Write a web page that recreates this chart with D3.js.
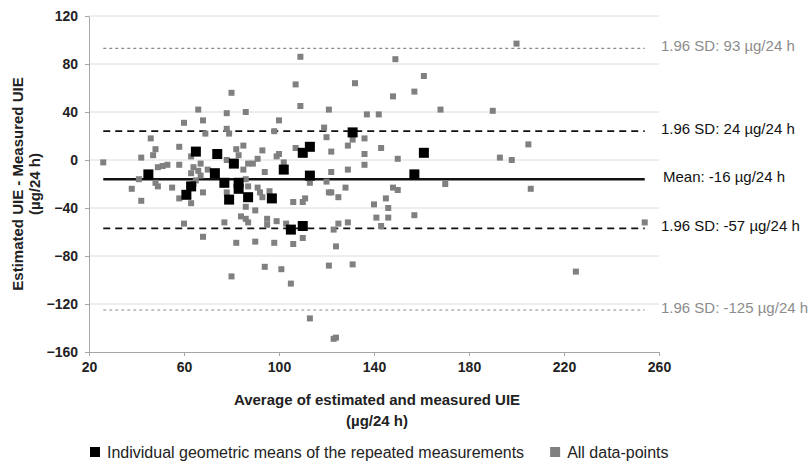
<!DOCTYPE html>
<html>
<head>
<meta charset="utf-8">
<script src="https://cdn.jsdelivr.net/npm/d3@7"></script>
<style>
  body { margin: 0; background: #fff; }
  svg { font-family: "Liberation Sans", Arial, sans-serif; }
</style>
</head>
<body>
<script>
// Bland-Altman: average (x) vs difference (y), ug/24 h
const xTicks = [20, 60, 100, 140, 180, 220, 260];
const yTicks = [-160, -120, -80, -40, 0, 40, 80, 120];

// gray: all data points [average, difference]
const allPoints = [
  [26,-2],[38,-24],[41,-16],[42,-34],[42,2],[46,18],[48,9],[47,4],[49,-6],[51,-5],
  [53,-4],[49,-22],[48,-19],[55,-23],[58,11],[58,-4],[58,-32],[60,31],[60,-53],[63,3],
  [63,-36],[66,42],[68,33],[69,22],[68,-27],[68,-64],[64,-6],[66,-9],[63,-11],[67,-13],
  [65,-17],[70,-8],[64,-20],[67,-3],[77,-52],[78,-27],[78,39],[80,56],[78,26],[79,22],
  [78,0],[80,-97],[82,9],[85,12],[83,4],[82,-69],[86,40],[86,-39],[84,-47],[86,-49],
  [87,-52],[87,-3],[85,-8],[89,-3],[86,-16],[87,-22],[90,-42],[91,-23],[92,-27],[93,-31],
  [93,8],[91,1],[94,-10],[90,-68],[94,-89],[96,-26],[95,-49],[95,-54],[98,24],[98,-69],
  [99,-51],[100,33],[100,5],[99,3],[102,-2],[101,-91],[103,-53],[105,-103],[106,-35],[106,-70],
  [107,63],[107,10],[109,86],[109,45],[110,-35],[110,-65],[111,-32],[113,-19],[113,-132],[119,27],
  [120,19],[120,-18],[121,42],[121,-27],[122,-27],[121,-88],[122,7],[122,-10],[123,-58],[123,-149],
  [124,-148],[124,-72],[125,-31],[125,-53],[128,-23],[129,12],[129,-8],[129,-52],[131,17],[131,-87],
  [132,64],[136,18],[136,5],[136,-4],[137,38],[140,-37],[141,-48],[142,38],[143,10],[143,-55],
  [145,-32],[146,-40],[146,-48],[148,53],[148,-23],[149,84],[150,1],[150,-25],[157,57],[157,-46],
  [161,70],[168,42],[170,-20],[190,41],[193,2],[198,0],[200,97],[205,13],[206,-24],[225,-93],
  [254,-52]
];

// black: individual geometric means
const geoMeans = [
  [45,-12],[61,-29],[63,-22],[65,7],[74,5],[73,-11],[77,-19],[79,-33],[81,-3],[83,-19],
  [83,-24],[87,-31],[97,-32],[102,-8],[105,-58],[110,-55],[110,6],[113,11],[113,-13],[131,23],
  [157,-12],[161,6]
];

// mean and limits of agreement
const refLines = [
  {value: 93, label: "1.96 SD: 93 µg/24 h", kind: "outer"},
  {value: 24, label: "1.96 SD: 24 µg/24 h", kind: "inner"},
  {value: -16, label: "Mean: -16 µg/24 h", kind: "mean"},
  {value: -57, label: "1.96 SD: -57 µg/24 h", kind: "inner"},
  {value: -125, label: "1.96 SD: -125 µg/24 h", kind: "outer"}
];
const lineSpan = [26, 254];

const W = 809, H = 464;
const m = {left: 89, right: 150, top: 16, bottom: 112};

const svg = d3.select("body").append("svg").attr("width", W).attr("height", H);

const x = d3.scaleLinear().domain([20, 260]).range([m.left, W - m.right]);
const y = d3.scaleLinear().domain([-160, 120]).range([H - m.bottom, m.top]);

// grid
svg.append("g").selectAll("line")
  .data(yTicks.filter(d => d > -160))
  .enter().append("line")
  .attr("x1", x(20)).attr("x2", x(260))
  .attr("y1", d => y(d)).attr("y2", d => y(d))
  .attr("stroke", "#dcdcdc").attr("stroke-width", 1);

// axes
const yAxis = svg.append("g")
  .attr("transform", `translate(${m.left},0)`)
  .call(d3.axisLeft(y).tickValues(yTicks).tickSize(4).tickSizeOuter(0).tickPadding(7));
const xAxis = svg.append("g")
  .attr("transform", `translate(0,${H - m.bottom})`)
  .call(d3.axisBottom(x).tickValues(xTicks).tickSize(4).tickSizeOuter(0).tickPadding(6));

[xAxis, yAxis].forEach(a => {
  a.select(".domain").attr("stroke", "#a6a6a6");
  a.selectAll(".tick line").attr("stroke", "#a6a6a6");
  a.selectAll(".tick text")
    .attr("fill", "#222")
    .style("font-size", "14px")
    .style("font-weight", "bold")
    .style("font-family", "'Liberation Sans', Arial, sans-serif");
});

// reference lines
const styles = {
  outer: {stroke: "#8c8c8c", width: 1.2, dash: "3,3", color: "#8c8c8c"},
  inner: {stroke: "#111", width: 1.8, dash: "7,5", color: "#111"},
  mean: {stroke: "#111", width: 2.6, dash: null, color: "#111"}
};

svg.append("g").selectAll("line")
  .data(refLines)
  .enter().append("line")
  .attr("x1", x(lineSpan[0])).attr("x2", x(lineSpan[1]))
  .attr("y1", d => y(d.value)).attr("y2", d => y(d.value))
  .attr("stroke", d => styles[d.kind].stroke)
  .attr("stroke-width", d => styles[d.kind].width)
  .attr("stroke-dasharray", d => styles[d.kind].dash);

svg.append("g").selectAll("text")
  .data(refLines)
  .enter().append("text")
  .attr("x", d => d.kind === "mean" ? 663 : 661)
  .attr("y", d => y(d.value) + 3)
  .attr("fill", d => styles[d.kind].color)
  .style("font-size", "15px")
  .text(d => d.label);

// points
svg.append("g").selectAll("rect")
  .data(allPoints)
  .enter().append("rect")
  .attr("x", d => x(d[0]) - 3).attr("y", d => y(d[1]) - 3)
  .attr("width", 6).attr("height", 6)
  .attr("fill", "#808080");

svg.append("g").selectAll("rect")
  .data(geoMeans)
  .enter().append("rect")
  .attr("x", d => x(d[0]) - 5).attr("y", d => y(d[1]) - 5)
  .attr("width", 10).attr("height", 10)
  .attr("fill", "#000");

// axis titles
const yt = svg.append("text")
  .attr("transform", `translate(23,${y(-20)}) rotate(-90)`)
  .attr("text-anchor", "middle")
  .style("font-size", "15px").style("font-weight", "bold").attr("fill", "#222");
yt.append("tspan").attr("x", 0).attr("dy", 0).text("Estimated UIE - Measured UIE");
yt.append("tspan").attr("x", 0).attr("dy", 17).text("(µg/24 h)");

const xt = svg.append("text")
  .attr("text-anchor", "middle")
  .style("font-size", "15px").style("font-weight", "bold").attr("fill", "#222");
xt.append("tspan").attr("x", 377).attr("y", 405).text("Average of estimated and measured UIE");
xt.append("tspan").attr("x", 377).attr("y", 426).text("(µg/24 h)");

// legend
const legend = [
  {label: "Individual geometric means of the repeated measurements", color: "#000"},
  {label: "All data-points", color: "#808080"}
];
const lg = svg.append("g").attr("transform", "translate(90,452)");
let lx = 0;
legend.forEach(d => {
  lg.append("rect").attr("x", lx).attr("y", -5).attr("width", 10).attr("height", 10).attr("fill", d.color);
  const t = lg.append("text").attr("x", lx + 17).attr("y", 6)
    .style("font-size", "16px").attr("fill", "#222").text(d.label);
  lx += 17 + t.node().getComputedTextLength() + 26;
});
</script>
</body>
</html>
